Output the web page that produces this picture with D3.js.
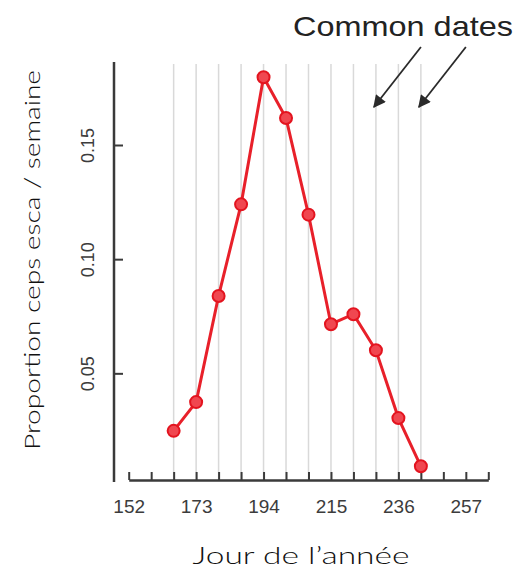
<!DOCTYPE html>
<html>
<head>
<meta charset="utf-8">
<script src="https://cdn.jsdelivr.net/npm/d3@7"></script>
<style>
  body { margin: 0; background: #fff; }
  svg { display: block; }
</style>
</head>
<body>
<div id="chart"></div>
<script>
// weekly dates (day of year) and proportion of esca vines
const days = [166, 173, 180, 187, 194, 201, 208, 215, 222, 229, 236, 243];
const proportion = [0.0248, 0.0374, 0.0839, 0.124, 0.1797, 0.1618, 0.1195, 0.0715, 0.0759, 0.0601, 0.0304, 0.0093];
const xTickLabels = [152, 173, 194, 215, 236, 257];
const yTickLabels = [0.05, 0.10, 0.15];
const commonDates = [229, 243];

const width = 518, height = 570;

const svg = d3.select('#chart').append('svg')
  .attr('width', width)
  .attr('height', height);

const x = d3.scaleLinear().domain([152, 264]).range([128.7, 488.3]);
const y = d3.scaleLinear().domain([0, 0.15]).range([487.5, 145]);

const axisY = 480; // x-axis line position
const axisX = 114; // y-axis line position

// vertical grid lines on sampling days
svg.append('g')
  .selectAll('line')
  .data(days)
  .enter().append('line')
  .attr('x1', d => x(d)).attr('x2', d => x(d))
  .attr('y1', 64).attr('y2', axisY)
  .attr('stroke', '#d9d9d9')
  .attr('stroke-width', 1.5);

// x axis: ticks every 7 days pointing up
const xAxis = d3.axisBottom(x)
  .tickValues(d3.range(152, 265, 7))
  .tickSizeInner(-8)
  .tickSizeOuter(0)
  .tickFormat(d => xTickLabels.includes(d) ? d : '');

const gx = svg.append('g')
  .attr('transform', 'translate(0,' + axisY + ')')
  .call(xAxis);
gx.select('.domain').attr('stroke', '#3a3a3a').attr('stroke-width', 2.5);
gx.selectAll('.tick line').attr('stroke', '#3a3a3a').attr('stroke-width', 2);
gx.selectAll('.tick text')
  .attr('y', 20)
  .attr('dy', '0.71em')
  .attr('fill', '#3c3c3c')
  .style('font-family', 'Liberation Sans, Arial, sans-serif')
  .style('font-size', '19px');

// y axis
const yAxis = d3.axisLeft(y)
  .tickValues(yTickLabels)
  .tickSizeInner(-9)
  .tickSizeOuter(0)
  .tickFormat(d3.format('.2f'));

const gy = svg.append('g')
  .attr('transform', 'translate(' + axisX + ',0)')
  .call(yAxis);
gy.select('.domain').attr('d', 'M0,62V482').attr('stroke', '#3a3a3a').attr('stroke-width', 2.5);
gy.selectAll('.tick line').attr('stroke', '#3a3a3a').attr('stroke-width', 2);
gy.selectAll('.tick text')
  .attr('x', null).attr('dy', null)
  .attr('transform', 'translate(-20,0) rotate(-90)')
  .attr('text-anchor', 'middle')
  .attr('fill', '#3c3c3c')
  .style('font-family', 'Liberation Sans, Arial, sans-serif')
  .style('font-size', '18px');

// line + points
const pts = days.map((d, i) => ({ day: d, value: proportion[i] }));

svg.append('path')
  .datum(pts)
  .attr('fill', 'none')
  .attr('stroke', '#e8202a')
  .attr('stroke-width', 3)
  .attr('d', d3.line().x(d => x(d.day)).y(d => y(d.value)));

svg.append('g')
  .selectAll('circle')
  .data(pts)
  .enter().append('circle')
  .attr('cx', d => x(d.day))
  .attr('cy', d => y(d.value))
  .attr('r', 6)
  .attr('fill', '#f04750')
  .attr('stroke', '#e3141f')
  .attr('stroke-width', 2);

// annotation
svg.append('text')
  .attr('x', 293).attr('y', 36)
  .attr('textLength', 220)
  .attr('lengthAdjust', 'spacingAndGlyphs')
  .attr('fill', '#222')
  .style('font-family', 'Liberation Sans, Arial, sans-serif')
  .style('font-weight', 'normal')
  .style('font-size', '28px')
  .text('Common dates');

const defs = svg.append('defs');
defs.append('marker')
  .attr('id', 'arrow')
  .attr('viewBox', '0 0 10 10')
  .attr('refX', 9).attr('refY', 5)
  .attr('markerWidth', 8).attr('markerHeight', 7)
  .attr('markerUnits', 'strokeWidth')
  .attr('orient', 'auto')
  .append('path')
  .attr('d', 'M0,0L10,5L0,10z')
  .attr('fill', '#2a2a2a');

svg.append('g')
  .selectAll('line')
  .data(commonDates)
  .enter().append('line')
  .attr('x1', d => x(d) + 45).attr('y1', 47)
  .attr('x2', d => x(d) - 2).attr('y2', 107)
  .attr('stroke', '#2a2a2a')
  .attr('stroke-width', 1.8)
  .attr('marker-end', 'url(#arrow)');

// axis titles
svg.append('text')
  .attr('transform', 'translate(40,260) rotate(-90)')
  .attr('text-anchor', 'middle')
  .attr('textLength', 380)
  .attr('lengthAdjust', 'spacingAndGlyphs')
  .attr('fill', '#111')
  .style('font-family', 'Lato, sans-serif')
  .style('font-weight', 300)
  .style('font-size', '21px')
  .text('Proportion ceps esca / semaine');

svg.append('text')
  .attr('x', 301).attr('y', 564)
  .attr('text-anchor', 'middle')
  .attr('textLength', 217)
  .attr('lengthAdjust', 'spacingAndGlyphs')
  .attr('fill', '#111')
  .style('font-family', 'Lato, sans-serif')
  .style('font-weight', 300)
  .style('font-size', '23px')
  .text('Jour de l\u2019année');
</script>
</body>
</html>
